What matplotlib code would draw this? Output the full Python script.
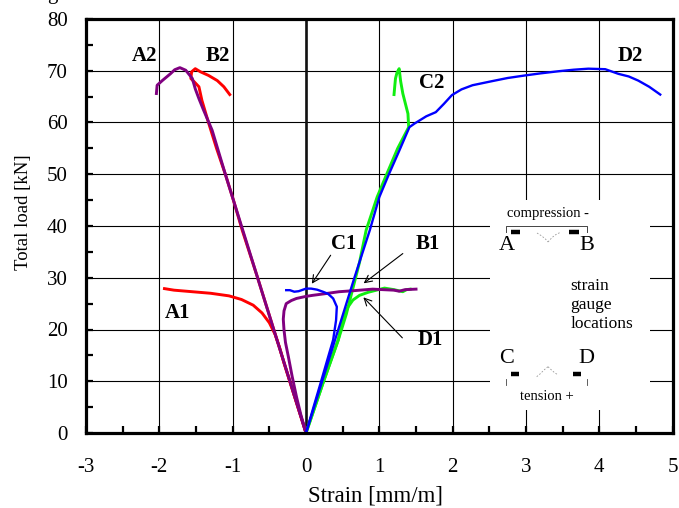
import matplotlib
matplotlib.use("Agg")
import matplotlib.pyplot as plt
from matplotlib.ticker import MultipleLocator

# strain [mm/m] / total load [kN]
a1_strain = [0, -0.1, -0.2, -0.3, -0.36, -0.42, -0.5, -0.6, -0.72, -0.88, -1.05, -1.3, -1.55, -1.8, -1.93]
a1_load = [0, 4.5, 9, 13.5, 16.5, 19, 21.3, 23.2, 24.7, 25.8, 26.5, 27.0, 27.3, 27.6, 27.9]

b2_strain = [0, -0.22, -0.44, -0.66, -0.87, -0.99, -1.1, -1.22, -1.33, -1.42, -1.46, -1.52, -1.57, -1.56,
             -1.51, -1.44, -1.33, -1.21, -1.12, -1.04]
b2_load = [0, 10, 20, 30, 39.2, 45, 50, 55, 60, 64.3, 66.9, 67.8, 68.5, 69.8,
           70.4, 69.8, 69.1, 68.1, 66.9, 65.4]

a2_strain = [0, -0.22, -0.44, -0.66, -0.88, -1.1, -1.28, -1.4, -1.46, -1.51, -1.55, -1.64, -1.72, -1.79,
             -1.85, -1.96, -2.03, -2.04]
a2_load = [0, 10, 20, 30, 40, 50, 58.5, 62.5, 64.6, 66.5, 68.5, 70.1, 70.6, 70.2,
           69.4, 68.1, 67.2, 65.6]

b1_strain = [0, -0.07, -0.13, -0.19, -0.24, -0.28, -0.3, -0.31, -0.3, -0.27, -0.2, -0.13, 0.0, 0.09, 0.25,
             0.45, 0.65, 0.91, 1.05, 1.2, 1.27, 1.35, 1.5]
b1_load = [0, 3.5, 7.0, 11, 14.7, 17.5, 19.9, 22, 23.6, 25.0, 25.6, 26.0, 26.4, 26.6, 26.9,
           27.3, 27.5, 27.8, 27.7, 27.6, 27.4, 27.7, 27.8]

c1_strain = [0, 0.1, 0.2, 0.3, 0.37, 0.41, 0.42, 0.37, 0.3, 0.23, 0.15, 0.07, 0.0, -0.04, -0.1, -0.16, -0.22, -0.27]
c1_load = [0, 4.9, 9.7, 14.6, 18.0, 21.8, 24.4, 26.0, 26.9, 27.3, 27.7, 27.9, 27.9, 27.7, 27.4, 27.3, 27.6, 27.6]

d2_strain = [0, 0.22, 0.44, 0.66, 0.87, 1.0, 1.13, 1.27, 1.41, 1.48, 1.64, 1.77, 1.88, 1.99, 2.12, 2.27,
             2.54, 2.75, 2.99, 3.2, 3.44, 3.65, 3.85, 4.08, 4.26, 4.4, 4.53, 4.68, 4.83]
d2_load = [0, 10, 20, 30, 39.2, 45.6, 50, 54.5, 59.1, 59.8, 61.2, 62.0, 63.6, 65.3, 66.4, 67.2,
           68.0, 68.6, 69.1, 69.5, 69.9, 70.2, 70.4, 70.3, 69.4, 68.9, 68.1, 66.9, 65.4]

c2_strain = [0, 0.12, 0.24, 0.44, 0.55, 0.64, 0.73, 0.82, 0.97, 1.1, 1.25, 1.4, 1.39, 1.32, 1.29, 1.27,
             1.24, 1.22, 1.21, 1.2]
c2_load = [0, 5, 10, 18, 23, 28, 33, 39.2, 45.6, 50, 55, 59.1, 61.7, 65.6, 68, 70.4,
           69.6, 68.5, 67, 65.4]

d1_strain = [0, 0.12, 0.24, 0.44, 0.5, 0.57, 0.64, 0.73, 0.85, 0.96, 1.07, 1.2, 1.32, 1.37, 1.42]
d1_load = [0, 5, 10, 18, 22, 24.3, 25.7, 26.6, 27.2, 27.6, 28.0, 27.7, 27.3, 27.7, 27.8]

# curve labels
labels = ['A2', 'B2', 'C2', 'D2', 'A1']
label_x = [-2.2, -1.2, 1.72, 4.42, -1.75]
label_y = [72.9, 72.9, 67.6, 72.9, 23.2]

arrow_labels = ['C1', 'B1', 'D1']
arrow_text_x = [0.52, 1.66, 1.69]
arrow_text_y = [36.5, 36.5, 18.0]
arrow_tail_x = [0.357, 1.35, 1.34]
arrow_tail_y = [34.8, 35.0, 18.0]
arrow_tip_x = [0.058, 0.756, 0.756]
arrow_tip_y = [28.4, 28.6, 26.6]

plt.rcParams['font.family'] = 'Liberation Serif'
plt.rcParams['axes.unicode_minus'] = False

fig = plt.figure(figsize=(6.79, 5.08), dpi=100)
W, H = 679, 508
ax = fig.add_axes([86 / W, (H - 433) / H, 586.7 / W, 414 / H])

red = '#ff0000'
purple = '#800080'
blue = '#0000ff'
green = '#11ee11'

ax.plot(a1_strain, a1_load, color=red, lw=2.1, zorder=3)
ax.plot(b2_strain, b2_load, color=red, lw=2.1, zorder=3)
ax.plot(a2_strain, a2_load, color=purple, lw=2.1, zorder=3.2)
ax.plot(d1_strain, d1_load, color=green, lw=2.1, zorder=3)
ax.plot(c2_strain, c2_load, color=green, lw=2.1, zorder=3)
ax.plot(b1_strain, b1_load, color=purple, lw=2.1, zorder=3.3)
ax.plot(c1_strain, c1_load, color=blue, lw=1.7, zorder=3.4)
ax.plot(d2_strain, d2_load, color=blue, lw=1.7, zorder=3.4)

ax.axvline(0, color='#111111', lw=1.9, zorder=2)

ax.set_xlim(-3, 5)
ax.set_ylim(0, 80)
ax.xaxis.set_major_locator(MultipleLocator(1))
ax.xaxis.set_minor_locator(MultipleLocator(0.5))
ax.yaxis.set_major_locator(MultipleLocator(10))
ax.yaxis.set_minor_locator(MultipleLocator(5))
ax.grid(which='major', color='black', lw=0.8, zorder=1)
ax.tick_params(which='both', direction='in', length=5, width=1.6, top=False, right=False)
ax.tick_params(axis='x', which='major', labelsize=15, pad=18)
ax.tick_params(axis='y', which='major', labelsize=15, pad=13)
for s in ax.spines.values():
    s.set_linewidth(2.3)
    s.set_zorder(4)

ax.set_xlabel('Strain [mm/m]', fontsize=16.5)
ax.xaxis.set_label_coords(0.4935, -0.126)
ax.set_ylabel('Total load [kN]', fontsize=13.5)
ax.yaxis.set_label_coords(-0.092, 0.533)

for t, x, y in zip(labels, label_x, label_y):
    ax.text(x, y, t, fontsize=15, fontweight='bold', ha='center', va='center', zorder=5)

for t, tx, ty, ax0, ay0, px, py in zip(arrow_labels, arrow_text_x, arrow_text_y,
                                       arrow_tail_x, arrow_tail_y, arrow_tip_x, arrow_tip_y):
    ax.text(tx, ty, t, fontsize=15, fontweight='bold', ha='center', va='center', zorder=5)
    ax.annotate('', xy=(px, py), xytext=(ax0, ay0),
                arrowprops=dict(arrowstyle='->', color='black', lw=0.8, mutation_scale=13), zorder=5)

# stray caption fragment at the top edge
fig.text(47 / W, 1 + 1.0 / H, 'g', fontsize=15, ha='left', va='baseline')

# gauge location sketch (pixel-space inset)
ins = fig.add_axes([490 / W, (H - 410) / H, 160 / W, 210 / H])
ins.set_facecolor('white')
ins.set_xlim(490, 650)
ins.set_ylim(410, 200)
ins.set_xticks([])
ins.set_yticks([])
for s in ins.spines.values():
    s.set_visible(False)

ins.text(547.5, 213.8, 'compression -', fontsize=10.5, ha='center', va='center')
ins.plot([506, 506, 587.3, 587.3], [231.7, 226, 226, 231.7], color='#444444', lw=0.7)
ins.plot([510.7, 520], [232.5, 232.5], color='black', lw=3.2, solid_capstyle='butt')
ins.plot([569.3, 579.3], [232.5, 232.5], color='black', lw=3.2, solid_capstyle='butt')
ins.plot([537, 541, 545, 548], [233, 235.5, 238.5, 242], color='#999999', lw=0.6, ls=(0, (2, 2)))
ins.plot([548, 552, 556, 560], [242, 237.5, 234.5, 232.5], color='#999999', lw=0.6, ls=(0, (2, 2)))
ins.text(506.7, 246, 'A', fontsize=16, ha='center', va='center')
ins.text(586.7, 246, 'B', fontsize=16, ha='center', va='center')
ins.text(570.7, 305, 'strain\ngauge\nlocations', fontsize=12.5, ha='left', va='center', linespacing=1.25)
ins.text(506.7, 359, 'C', fontsize=16, ha='center', va='center')
ins.text(586.7, 359, 'D', fontsize=16, ha='center', va='center')
ins.plot([506, 506], [379.3, 385], color='#444444', lw=0.6)
ins.plot([587.3, 587.3], [379.3, 385], color='#444444', lw=0.6)
ins.plot([510.7, 519.3], [374.5, 374.5], color='black', lw=3.2, solid_capstyle='butt')
ins.plot([572.7, 580.7], [374.5, 374.5], color='black', lw=3.2, solid_capstyle='butt')
ins.plot([536.7, 540, 544, 548], [376.7, 374, 370, 366.7], color='#999999', lw=0.6, ls=(0, (2, 2)))
ins.plot([548, 552, 555, 558.3], [366.7, 370.5, 373, 375], color='#999999', lw=0.6, ls=(0, (2, 2)))
ins.text(547, 396.5, 'tension +', fontsize=10.5, ha='center', va='center')

plt.savefig('out.png', dpi=100)
